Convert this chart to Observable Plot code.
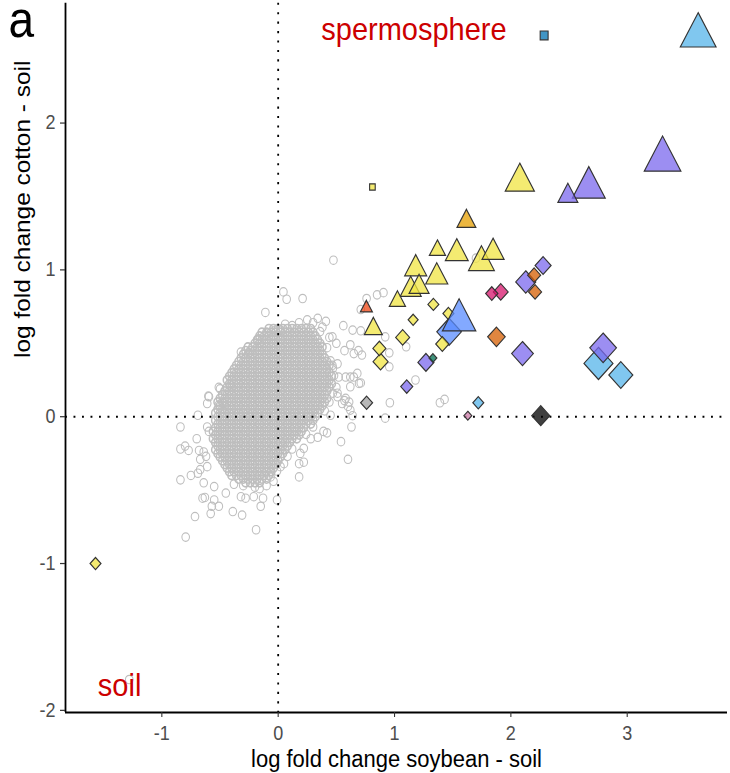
<!DOCTYPE html>
<html>
<head>
<meta charset="utf-8">
<script src="https://cdn.jsdelivr.net/npm/d3@7"></script>
<script src="https://cdn.jsdelivr.net/npm/@observablehq/plot@0.6"></script>
<style>
  html, body { margin: 0; padding: 0; background: #fff; }
  #chart { width: 730px; height: 773px; overflow: hidden; }
</style>
</head>
<body>
<div id="chart"></div>
<script>
// ---------- data ----------
const xTicks = [-1, 0, 1, 2, 3];
const yTicks = [-2, -1, 0, 1, 2];
const xLabel = "log fold change soybean - soil";
const yLabel = "log fold change cotton - soil";

// dense core of the non-significant OTU cloud: [y, x, x, x, ...]
const cloudCoreRows = [
  [.6, -.08,-.04,0,.04,.08,.12,.16,.2,.24,.28],
  [.575, -.14,-.1,-.06,-.02,.02,.06,.1,.14,.18,.22,.26,.3],
  [.55, -.16,-.12,-.08,-.04,0,.04,.08,.12,.16,.2,.24,.28,.32],
  [.525, -.18,-.14,-.1,-.06,-.02,.02,.06,.1,.14,.18,.22,.26,.3,.34],
  [.5, -.2,-.16,-.12,-.08,-.04,0,.04,.08,.12,.16,.2,.24,.28,.32,.36],
  [.475, -.26,-.22,-.18,-.14,-.1,-.06,-.02,.02,.06,.1,.14,.18,.22,.26,.3,.34,.38],
  [.45, -.28,-.24,-.2,-.16,-.12,-.08,-.04,0,.04,.08,.12,.16,.2,.24,.28,.32,.36],
  [.425, -.3,-.26,-.22,-.18,-.14,-.1,-.06,-.02,.02,.06,.1,.14,.18,.22,.26,.3,.34,.38],
  [.4, -.32,-.28,-.24,-.2,-.16,-.12,-.08,-.04,0,.04,.08,.12,.16,.2,.24,.28,.32,.36,.4],
  [.375, -.34,-.3,-.26,-.22,-.18,-.14,-.1,-.06,-.02,.02,.06,.1,.14,.18,.22,.26,.3,.34,.38,.42],
  [.35, -.36,-.32,-.28,-.24,-.2,-.16,-.12,-.08,-.04,0,.04,.08,.12,.16,.2,.24,.28,.32,.36,.4,.44],
  [.325, -.38,-.34,-.3,-.26,-.22,-.18,-.14,-.1,-.06,-.02,.02,.06,.1,.14,.18,.22,.26,.3,.34,.38,.42],
  [.3, -.4,-.36,-.32,-.28,-.24,-.2,-.16,-.12,-.08,-.04,0,.04,.08,.12,.16,.2,.24,.28,.32,.36,.4,.44],
  [.275, -.42,-.38,-.34,-.3,-.26,-.22,-.18,-.14,-.1,-.06,-.02,.02,.06,.1,.14,.18,.22,.26,.3,.34,.38,.42,.46],
  [.25, -.44,-.4,-.36,-.32,-.28,-.24,-.2,-.16,-.12,-.08,-.04,0,.04,.08,.12,.16,.2,.24,.28,.32,.36,.4,.44],
  [.225, -.42,-.38,-.34,-.3,-.26,-.22,-.18,-.14,-.1,-.06,-.02,.02,.06,.1,.14,.18,.22,.26,.3,.34,.38,.42,.46],
  [.2, -.44,-.4,-.36,-.32,-.28,-.24,-.2,-.16,-.12,-.08,-.04,0,.04,.08,.12,.16,.2,.24,.28,.32,.36,.4,.44],
  [.175, -.46,-.42,-.38,-.34,-.3,-.26,-.22,-.18,-.14,-.1,-.06,-.02,.02,.06,.1,.14,.18,.22,.26,.3,.34,.38,.42],
  [.15, -.48,-.44,-.4,-.36,-.32,-.28,-.24,-.2,-.16,-.12,-.08,-.04,0,.04,.08,.12,.16,.2,.24,.28,.32,.36,.4],
  [.125, -.5,-.46,-.42,-.38,-.34,-.3,-.26,-.22,-.18,-.14,-.1,-.06,-.02,.02,.06,.1,.14,.18,.22,.26,.3,.34,.38,.42],
  [.1, -.52,-.48,-.44,-.4,-.36,-.32,-.28,-.24,-.2,-.16,-.12,-.08,-.04,0,.04,.08,.12,.16,.2,.24,.28,.32,.36,.4],
  [.075, -.5,-.46,-.42,-.38,-.34,-.3,-.26,-.22,-.18,-.14,-.1,-.06,-.02,.02,.06,.1,.14,.18,.22,.26,.3,.34,.38],
  [.05, -.52,-.48,-.44,-.4,-.36,-.32,-.28,-.24,-.2,-.16,-.12,-.08,-.04,0,.04,.08,.12,.16,.2,.24,.28,.32,.36],
  [.025, -.54,-.5,-.46,-.42,-.38,-.34,-.3,-.26,-.22,-.18,-.14,-.1,-.06,-.02,.02,.06,.1,.14,.18,.22,.26,.3,.34],
  [0, -.52,-.48,-.44,-.4,-.36,-.32,-.28,-.24,-.2,-.16,-.12,-.08,-.04,0,.04,.08,.12,.16,.2,.24,.28,.32],
  [-.025, -.54,-.5,-.46,-.42,-.38,-.34,-.3,-.26,-.22,-.18,-.14,-.1,-.06,-.02,.02,.06,.1,.14,.18,.22,.26,.3],
  [-.05, -.52,-.48,-.44,-.4,-.36,-.32,-.28,-.24,-.2,-.16,-.12,-.08,-.04,0,.04,.08,.12,.16,.2,.24,.28],
  [-.075, -.54,-.5,-.46,-.42,-.38,-.34,-.3,-.26,-.22,-.18,-.14,-.1,-.06,-.02,.02,.06,.1,.14,.18,.22],
  [-.1, -.56,-.52,-.48,-.44,-.4,-.36,-.32,-.28,-.24,-.2,-.16,-.12,-.08,-.04,0,.04,.08,.12,.16,.2],
  [-.125, -.54,-.5,-.46,-.42,-.38,-.34,-.3,-.26,-.22,-.18,-.14,-.1,-.06,-.02,.02,.06,.1,.14,.18],
  [-.15, -.56,-.52,-.48,-.44,-.4,-.36,-.32,-.28,-.24,-.2,-.16,-.12,-.08,-.04,0,.04,.08,.12,.16],
  [-.175, -.54,-.5,-.46,-.42,-.38,-.34,-.3,-.26,-.22,-.18,-.14,-.1,-.06,-.02,.02,.06,.1],
  [-.2, -.52,-.48,-.44,-.4,-.36,-.32,-.28,-.24,-.2,-.16,-.12,-.08,-.04,0,.04,.08],
  [-.225, -.54,-.5,-.46,-.42,-.38,-.34,-.3,-.26,-.22,-.18,-.14,-.1,-.06,-.02,.02,.06],
  [-.25, -.52,-.48,-.44,-.4,-.36,-.32,-.28,-.24,-.2,-.16,-.12,-.08,-.04,0,.04],
  [-.275, -.5,-.46,-.42,-.38,-.34,-.3,-.26,-.22,-.18,-.14,-.1,-.06,-.02,.02],
  [-.3, -.48,-.44,-.4,-.36,-.32,-.28,-.24,-.2,-.16,-.12,-.08,-.04,0],
  [-.325, -.46,-.42,-.38,-.34,-.3,-.26,-.22,-.18,-.14,-.1,-.06,-.02],
  [-.35, -.44,-.4,-.36,-.32,-.28,-.24,-.2,-.16,-.12,-.08,-.04],
  [-.375, -.42,-.38,-.34,-.3,-.26,-.22,-.18,-.14,-.1,-.06],
  [-.4, -.4,-.36,-.32,-.28,-.24,-.2,-.16,-.12,-.08],
  [-.425, -.34,-.3,-.26,-.22,-.18,-.14,-.1],
  [-.45, -.28,-.24,-.2,-.16]
];

// scattered non-significant OTUs around the core: [x, y]
const cloudOuter = [
  [-.11,.71],[.045,.85],[.073,.80],[.21,.805],[.475,1.066],
  [-.17,.53],[-.09,.57],[-.02,.59],[.02,.59],[.06,.63],[.12,.62],[.18,.64],[.25,.66],[.30,.64],[.34,.67],[.38,.61],[.41,.65],[.36,.58],[.44,.54],[.42,.47],[.45,.38],[.47,.33],
  [.466,.544],[.56,.62],[.64,.59],[.71,.585],[.71,.73],[.76,.805],[.85,.83],[.905,.845],
  [.57,.45],[.62,.49],[.65,.43],[.69,.45],[.72,.42],[.50,.50],[.51,.36],[.466,.35],[.48,.28],
  [.52,.27],[.58,.27],[.62,.27],[.65,.27],[.68,.295],[.695,.227],[.71,.23],[.62,.204],
  [.92,.544],[.955,.435],[.955,.34],[1.10,.476],[1.18,.25],
  [.51,.16],[.51,.136],[.58,.125],[.57,.11],[.61,.10],[.55,.09],[.60,.07],[.62,.045],[.50,.20],[.47,.16],[.44,.10],
  [.64,.007],[.45,.01],[.40,.04],[.63,-.07],[.54,-.17],[.60,-.29],
  [.96,.095],[1.39,.095],[1.43,.118],[.92,-.01],[1.70,1.08],
  [.39,-.10],[.42,-.11],[.34,-.14],[.28,-.15],[.30,-.07],[.24,-.12],[.22,-.215],[.19,-.25],[.22,-.31],[.18,-.32],[.12,-.22],[.08,-.27],[.05,-.32],[.18,-.41],
  [.02,-.34],[-.01,-.37],[-.065,-.41],[-.04,-.44],[-.10,-.47],[-.20,-.48],[-.30,-.47],[-.38,-.46],
  [-.01,-.567],[-.15,-.61],[-.19,-.77],[-.31,-.67],[-.39,-.646],[-.32,-.545],[-.28,-.555],[-.21,-.545],[-.16,-.49],[-.13,-.555],[-.45,-.52],
  [-.51,-.61],[-.57,-.61],[-.58,-.66],[-.55,-.567],[-.715,-.68],[-.795,-.82],[-.65,-.555],[-.63,-.55],[-.64,-.45],[-.55,-.476],
  [-.84,-.43],[-.75,-.40],[-.69,-.385],[-.67,-.36],[-.61,-.34],[-.67,-.29],[-.62,-.27],[-.68,-.23],[-.64,-.24],[-.84,-.22],[-.80,-.20],[-.77,-.23],[-.70,-.15],
  [-.84,-.07],[-.61,-.07],[-.595,-.10],[-.69,.01],[-.61,.09],[-.595,.136],[-.51,.08],[-.47,.09],[-.60,.14],[-.50,.19],[-.51,.20],[-.41,.216],[-.32,.25],[-.38,.30],
  [-.32,.44],[-.25,.435],[-.18,.52],
  [-1.28,-1.79]
];

// significant OTUs
const otuX = [3.61,3.304,2.077,2.67,2.49,1.618,1.369,1.535,1.847,1.747,1.182,1.363,1.139,1.211,1.025,0.758,0.818,1.555,
  -1.57,1.469,1.334,1.463,1.16,1.07,1.411,0.87,0.88,1.27,1.33,1.105,0.76,1.72,1.63,2.257,1.836,1.913,1.876,2.10,2.277,2.128,2.20,2.208,2.793,2.753,2.945,
  0.81,2.286];
const otuY = [2.596,1.752,1.60,1.56,1.503,1.33,1.134,1.113,1.12,1.052,1.008,0.952,0.865,0.883,0.787,0.74,0.598,0.657,
  -1.00,0.578,0.765,0.703,0.66,0.54,0.495,0.465,0.375,0.37,0.40,0.205,0.095,0.095,0.007,0.007,0.839,0.85,0.544,0.43,1.03,0.918,0.964,0.85,0.469,0.363,0.284,
  1.565,2.597];
const otuGroup = ["LB","PU","Y","PU","PU","OR","Y","Y","Y","Y","Y","Y","Y","Y","Y","RO","Y","BL",
  "Y","BL","Y","Y","Y","Y","Y","Y","Y","PU","GR","PU","GY","LB","PK","DG","MG","MG","VM","PU","PU","PU","VM","VM","PU","LB","LB",
  "Y","SB"];
const otuAbundance = [176,185,117,149,55,49,36,72,67,92,67,67,61,55,36,20,45,154,
  19,96,19,19,16,31,28,27,36,41,10,23,23,19,10,52,24,35,49,75,41,64,27,27,113,134,92,
  10,20];
const otuShape = [
  ...Array(18).fill("triangle"),
  ...Array(27).fill("diamond"),
  ...Array(2).fill("square")
];

const groupKeys  = ["Y","LB","OR","VM","PK","GR","PU","BL","RO","MG","GY","DG","SB"];
const groupFills = ["#F0E442","#56B4E9","#E69F00","#D55E00","#CC79A7","#006D4F","#7B68EE","#5A8CFF","#EE4411","#D7166C","#A0A0A0","#000000","#0072B2"];

// ---------- build ----------
const cloudCore = cloudCoreRows.flatMap(([y, ...xs]) => xs.map(x => ({x, y})));
const cloudScatter = cloudOuter.map(([x, y]) => ({x, y}));
const otus = otuX.map((x, i) => ({x, y: otuY[i], group: otuGroup[i], abundance: otuAbundance[i], shape: otuShape[i]}));

const ggDiamond = {
  draw(context, size) {
    const h = Math.sqrt(size / Math.PI) * 1.2533;
    context.moveTo(0, -h); context.lineTo(h, 0); context.lineTo(0, h); context.lineTo(-h, 0); context.closePath();
  }
};

const W = 730, H = 773, H0 = 696, S = H / H0;   // figure is stretched vertically
const xDomain = [-1.828, 3.862];
const yDomain = [-2.015, 2.816];
const panelBottom = 712 / S;
const font = "'Liberation Sans', Arial, Helvetica, sans-serif";

const otuStyle = {x: "x", y: "y", r: "abundance", fill: "group", fillOpacity: 0.75, stroke: "#333", strokeWidth: 1.1};

const chart = Plot.plot({
  width: W, height: H0,
  marginLeft: 65, marginRight: 3, marginTop: 2.7 / S, marginBottom: H0 - panelBottom,
  x: {domain: xDomain, label: null},
  y: {domain: yDomain, label: null},
  r: {type: "sqrt", domain: [0, 196], range: [0, 14]},
  color: {domain: groupKeys, range: groupFills},
  style: {fontFamily: font, background: "#fff", overflow: "visible"},
  marks: [
    Plot.dot(cloudScatter, {x: "x", y: "y", r: 3.8, stroke: "#bebebe", strokeWidth: 1.05, fill: "none"}),
    Plot.dot(cloudCore, {x: "x", y: "y", r: 3.7, stroke: "#bebebe", strokeWidth: 1.5, fill: "none"}),
    Plot.ruleX([0], {stroke: "#000", strokeWidth: 1.8, strokeDasharray: "1.9,6.6"}),
    Plot.ruleY([0], {stroke: "#000", strokeWidth: 1.8, strokeDasharray: "1.9,6.6"}),
    Plot.ruleX([xDomain[0]], {stroke: "#000", strokeWidth: 1.8}),
    Plot.ruleY([yDomain[0]], {stroke: "#000", strokeWidth: 1.8}),
    Plot.axisX(xTicks, {tickSize: 4.5, tickPadding: 7, fontSize: 18, tickFormat: d => String(d), stroke: "#333", strokeWidth: 1.1, fill: "#4d4d4d", label: null}),
    Plot.axisY(yTicks, {tickSize: 5, tickPadding: 5, fontSize: 18, tickFormat: d => String(d), stroke: "#333", strokeWidth: 1.1, fill: "#4d4d4d", label: null}),
    Plot.dot(otus.filter(d => d.shape === "diamond"), {...otuStyle, symbol: ggDiamond}),
    Plot.dot(otus.filter(d => d.shape === "triangle"), {...otuStyle, symbol: "triangle"}),
    Plot.dot(otus.filter(d => d.shape === "square"), {...otuStyle, symbol: "square"}),
    Plot.text(["spermosphere"], {x: 0.371, y: 2.567, text: d => d, textAnchor: "start", lineAnchor: "bottom", fontSize: 29, fill: "#CC0000"}),
    Plot.text(["soil"], {x: -1.55, y: -1.905, text: d => d, textAnchor: "start", lineAnchor: "bottom", fontSize: 29, fill: "#CC0000"}),
    Plot.text(["a"], {frameAnchor: "top-left", dx: -57, dy: 33.05 - 2.7 / S, text: d => d, textAnchor: "start", lineAnchor: "bottom", fontSize: 46, fill: "#000"}),
    Plot.text([xLabel], {frameAnchor: "bottom", dy: 766 / S - panelBottom, text: d => d, lineAnchor: "bottom", fontSize: 22, fill: "#000"}),
    Plot.text([yLabel], {frameAnchor: "left", dx: -36, rotate: -90, text: d => d, lineAnchor: "bottom", fontSize: 22, fill: "#000"})
  ]
});

chart.setAttribute("height", H);
chart.setAttribute("preserveAspectRatio", "none");
chart.style.width = W + "px";
chart.style.height = H + "px";
chart.style.maxWidth = "none";
document.getElementById("chart").append(chart);
</script>
</body>
</html>
